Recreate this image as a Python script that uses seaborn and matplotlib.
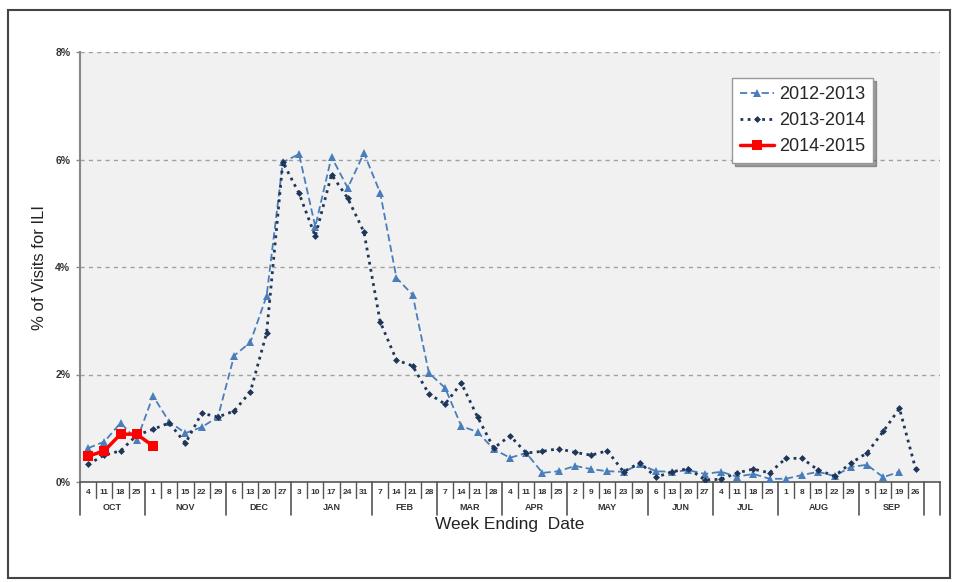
import numpy as np
import pandas as pd
import matplotlib
matplotlib.use("Agg")
import matplotlib.pyplot as plt
import matplotlib.transforms as mtransforms
from matplotlib.patches import Rectangle
import seaborn as sns

# ---- data ----
months = ["OCT", "NOV", "DEC", "JAN", "FEB", "MAR", "APR", "MAY", "JUN", "JUL", "AUG", "SEP"]
week_days = [
    [4, 11, 18, 25], [1, 8, 15, 22, 29], [6, 13, 20, 27], [3, 10, 17, 24, 31],
    [7, 14, 21, 28], [7, 14, 21, 28], [4, 11, 18, 25], [2, 9, 16, 23, 30],
    [6, 13, 20, 27], [4, 11, 18, 25], [1, 8, 15, 22, 29], [5, 12, 19, 26],
]
s2012_2013 = [0.63, 0.75, 1.10, 0.78, 1.60, 1.12, 0.91, 1.02, 1.21, 2.35,
              2.60, 3.46, 5.95, 6.10, 4.75, 6.05, 5.47, 6.12, 5.38, 3.80,
              3.48, 2.03, 1.75, 1.04, 0.93, 0.61, 0.45, 0.54, 0.17, 0.20,
              0.30, 0.24, 0.20, 0.19, 0.33, 0.20, 0.19, 0.22, 0.15, 0.19,
              0.10, 0.15, 0.06, 0.06, 0.13, 0.19, 0.11, 0.28, 0.32, 0.09,
              0.19]
s2013_2014 = [0.33, 0.50, 0.58, 0.87, 0.98, 1.10, 0.72, 1.28, 1.21, 1.32,
              1.68, 2.77, 5.95, 5.37, 4.57, 5.72, 5.28, 4.65, 2.98, 2.27,
              2.16, 1.64, 1.45, 1.84, 1.21, 0.63, 0.86, 0.54, 0.57, 0.62,
              0.55, 0.50, 0.58, 0.19, 0.36, 0.09, 0.19, 0.25, 0.04, 0.05,
              0.17, 0.24, 0.17, 0.44, 0.44, 0.22, 0.11, 0.35, 0.54, 0.94,
              1.37, 0.24]
s2014_2015 = [0.48, 0.58, 0.89, 0.89, 0.67]
y_ticks = [0, 2, 4, 6, 8]
y_tick_labels = ["0%", "2%", "4%", "6%", "8%"]

sns.set_theme(style="white")
plt.rcParams['font.family'] = ['Liberation Sans', 'DejaVu Sans']

fig = plt.figure(figsize=(9.6, 5.82), dpi=100)
ax = fig.add_axes([80 / 960, 1 - 482 / 582, 860 / 960, 430 / 582])
ax.set_facecolor("#f1f1f1")

n_slots = sum(len(w) for w in week_days) + 1

df1 = pd.DataFrame({"x": np.arange(len(s2012_2013)), "y": s2012_2013})
df2 = pd.DataFrame({"x": np.arange(len(s2013_2014)), "y": s2013_2014})
df3 = pd.DataFrame({"x": np.arange(len(s2014_2015)), "y": s2014_2015})

sns.lineplot(data=df1, x="x", y="y", ax=ax, color="#4a7ebb", linestyle=(0, (4, 2)),
             linewidth=1.3, marker="^", markersize=6, markeredgewidth=0,
             label="2012-2013", zorder=3)
sns.lineplot(data=df2, x="x", y="y", ax=ax, color="#1f3659", linestyle=(0, (1, 1.6)),
             linewidth=2.0, marker="D", markersize=3.5, markeredgewidth=0,
             label="2013-2014", zorder=4)
sns.lineplot(data=df3, x="x", y="y", ax=ax, color="#ff0000", linestyle="-",
             linewidth=2.5, marker="s", markersize=7.5, markeredgewidth=0,
             label="2014-2015", zorder=5)

ax.set_xlim(-0.5, n_slots - 0.5)
ax.set_ylim(0, 8)
ax.set_yticks(y_ticks)
ax.set_yticklabels(y_tick_labels, fontsize=7.5, fontweight="bold", color="#333333")
ax.tick_params(axis="y", length=3, width=1, color="#888888", pad=4, left=True)
ax.set_xticks([])
ax.set_xlabel("")
ax.set_ylabel("% of Visits for ILI", fontsize=12, color="#222222", labelpad=6)

for y in y_ticks[1:]:
    ax.axhline(y, color="#a0a0a0", linestyle=(0, (3, 3)), linewidth=1.0, zorder=1)

for s in ["top", "right"]:
    ax.spines[s].set_visible(False)
ax.spines["left"].set_color("#888888")
ax.spines["left"].set_linewidth(1.5)
ax.spines["bottom"].set_color("#555555")
ax.spines["bottom"].set_linewidth(1.2)

# ---- two-row x axis labels ----
trans = mtransforms.blended_transform_factory(ax.transData, ax.transAxes)
px = 1 / 430.0
idx = 0
ax.plot([-0.5, -0.5], [0, -33 * px], transform=trans, color="#555555", lw=1.2, clip_on=False)
for m, days in zip(months, week_days):
    start = idx
    for d in days:
        ax.text(idx, -10 * px, str(d), transform=trans, ha="center", va="center",
                fontsize=6, fontweight="bold", color="#333333")
        idx += 1
        if idx - start < len(days):
            ax.plot([idx - 0.5, idx - 0.5], [0, -16 * px], transform=trans,
                    color="#555555", lw=1.0, clip_on=False)
    ax.plot([idx - 0.5, idx - 0.5], [0, -33 * px], transform=trans,
            color="#555555", lw=1.2, clip_on=False)
    ax.text((start + idx - 1) / 2, -25 * px, m, transform=trans, ha="center", va="center",
            fontsize=6.5, fontweight="bold", color="#333333")
ax.plot([n_slots - 0.5, n_slots - 0.5], [0, -33 * px], transform=trans,
        color="#555555", lw=1.2, clip_on=False)

ax.text(26.0, -42 * px, "Week Ending  Date", transform=trans,
        ha="center", va="center", fontsize=12.5, color="#222222")

leg = ax.legend(loc="upper left", bbox_to_anchor=(0.758, 0.94), fontsize=13,
                frameon=True, fancybox=False, shadow=True, handlelength=1.9,
                handletextpad=0.25, borderpad=0.45, labelspacing=0.5,
                borderaxespad=0)
leg.get_frame().set_edgecolor("#999999")
leg.get_frame().set_facecolor("white")
leg.get_frame().set_linewidth(1.0)

# outer border
fig.patches.append(Rectangle((8 / 960, 1 - 578 / 582), 942 / 960, 568 / 582,
                             transform=fig.transFigure, fill=False,
                             edgecolor="#444444", linewidth=1.5))

fig.savefig("out.png", dpi=100)
